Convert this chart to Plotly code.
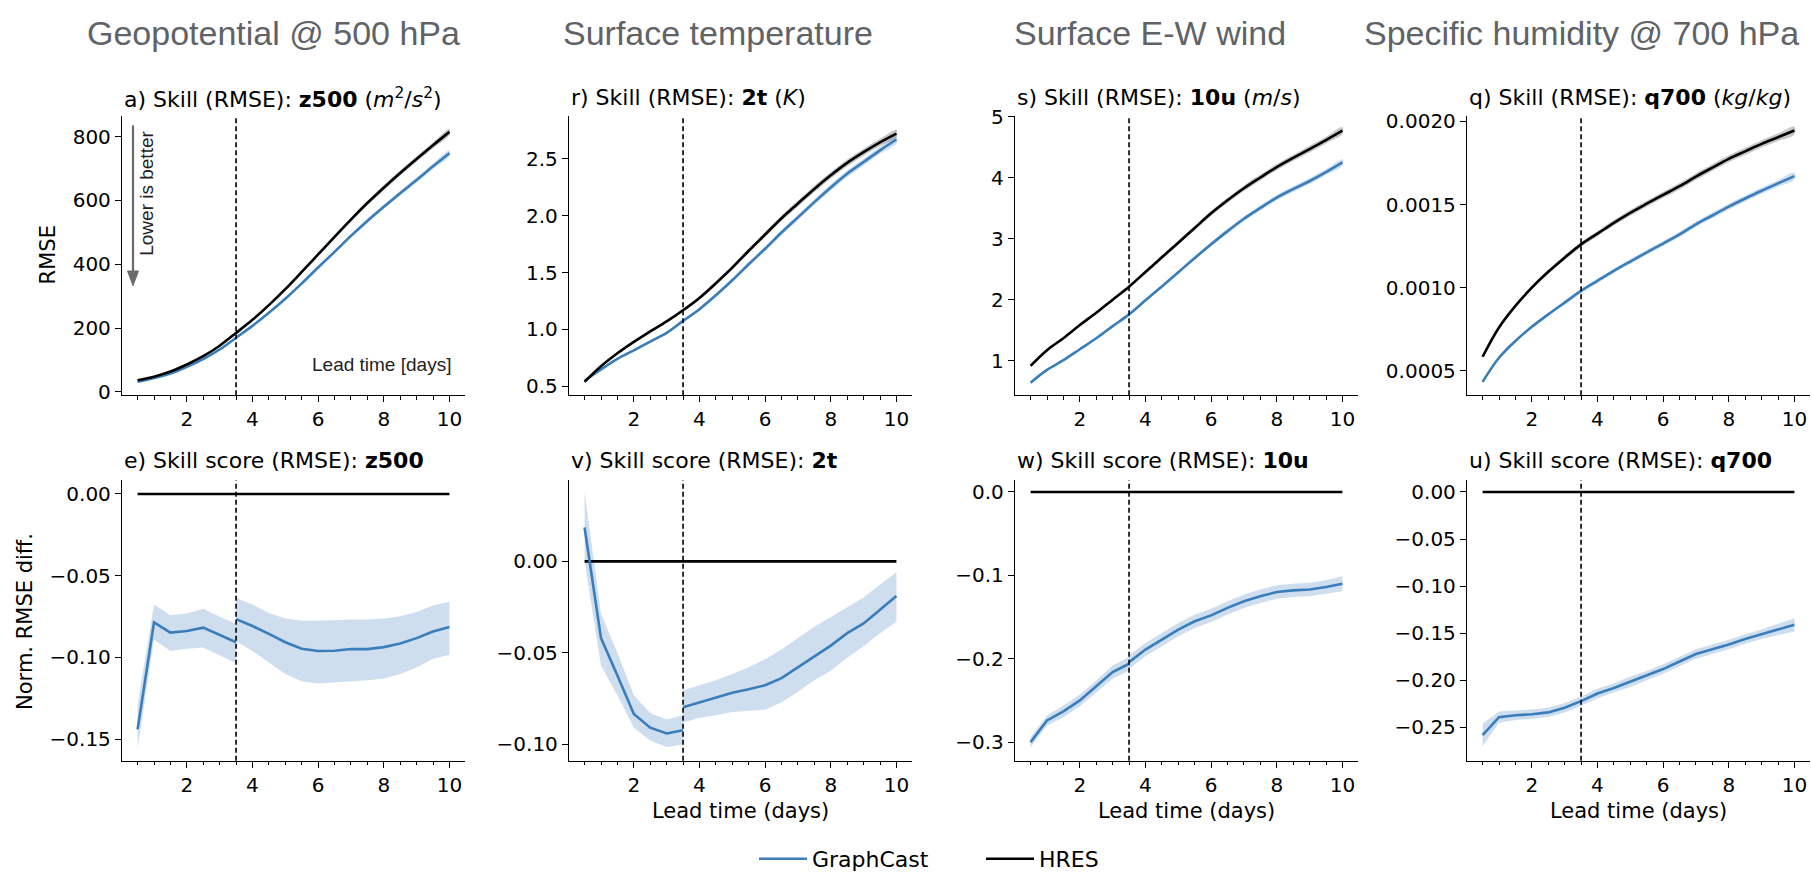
import plotly.graph_objects as go

# --- dane -------------------------------------------------------------------
lead_days = [0.5, 1.0, 1.5, 2.0, 2.5, 3.0, 3.5, 4.0, 4.5, 5.0,
             5.5, 6.0, 6.5, 7.0, 7.5, 8.0, 8.5, 9.0, 9.5, 10.0]
lead_seg1 = [0.5, 1.0, 1.5, 2.0, 2.5, 3.0, 3.5]
lead_seg2 = [3.5, 4.0, 4.5, 5.0, 5.5, 6.0, 6.5, 7.0, 7.5, 8.0, 8.5, 9.0, 9.5, 10.0]

# RMSE (górny rząd)
z500_hres = [37, 48, 64, 86, 112, 145, 185, 226, 272, 322,
             376, 431, 486, 540, 592, 640, 686, 730, 773, 815]
z500_gc = [32, 44, 58, 79, 103, 133, 170, 207, 248, 292,
           340, 390, 439, 489, 536, 580, 623, 664, 707, 748]
t2m_hres = [0.54, 0.677, 0.791, 0.891, 0.983, 1.071, 1.169, 1.277, 1.406, 1.543,
            1.691, 1.834, 1.977, 2.106, 2.234, 2.354, 2.463, 2.557, 2.643, 2.72]
t2m_gc = [0.55, 0.649, 0.742, 0.817, 0.894, 0.970, 1.075, 1.178, 1.301, 1.432,
          1.573, 1.709, 1.851, 1.984, 2.118, 2.246, 2.367, 2.470, 2.573, 2.668]
u10_hres = [0.92, 1.176, 1.373, 1.587, 1.789, 2.003, 2.216, 2.456, 2.696, 2.936,
            3.176, 3.416, 3.629, 3.827, 4.003, 4.173, 4.323, 4.467, 4.616, 4.77]
u10_gc = [0.644, 0.854, 1.012, 1.191, 1.372, 1.570, 1.762, 1.992, 2.220, 2.452,
          2.684, 2.910, 3.125, 3.328, 3.504, 3.674, 3.813, 3.945, 4.091, 4.25]
q700_hres = [0.000584, 0.00076, 0.00089, 0.001, 0.001095, 0.00118, 0.00126, 0.001325,
             0.00139, 0.00145, 0.001505, 0.001558, 0.00161, 0.001668, 0.001722,
             0.001775, 0.00182, 0.001865, 0.001905, 0.001945]
q700_gc = [0.000433, 0.000578, 0.000679, 0.000764, 0.000839, 0.00091, 0.00098,
           0.001041, 0.001101, 0.001157, 0.001212, 0.001265, 0.00132, 0.001381,
           0.001434, 0.001487, 0.001536, 0.001583, 0.001627, 0.001671]
rmse_spread = 0.012  # względna szerokość pasma niepewności w górnym rzędzie

# Znormalizowana różnica RMSE (dolny rząd), dwa odcinki rozdzielone w 3.5 dnia
z500_ss1 = [-0.144, -0.0786, -0.0848, -0.0838, -0.0818, -0.0862, -0.0907]
z500_ss1_lo = [-0.156, -0.0892, -0.0961, -0.0947, -0.094, -0.0987, -0.1035]
z500_ss1_hi = [-0.129, -0.0677, -0.0742, -0.0732, -0.0702, -0.0752, -0.0792]
z500_ss2 = [-0.0766, -0.0808, -0.0856, -0.0907, -0.0947, -0.0961, -0.0959,
            -0.0949, -0.0949, -0.0937, -0.0915, -0.0882, -0.0842, -0.0814]
z500_ss2_lo = [-0.0901, -0.0961, -0.1031, -0.1101, -0.1146, -0.116, -0.1156,
               -0.1146, -0.1139, -0.1129, -0.1101, -0.1061, -0.1008, -0.0983]
z500_ss2_hi = [-0.0637, -0.0677, -0.0728, -0.0762, -0.0776, -0.0776, -0.0772,
               -0.0768, -0.0768, -0.0762, -0.0748, -0.0722, -0.0683, -0.0659]

t2m_ss1 = [0.0185, -0.042, -0.0625, -0.0835, -0.091, -0.0942, -0.0924]
t2m_ss1_lo = [0.0, -0.0571, -0.0732, -0.091, -0.098, -0.1016, -0.1002]
t2m_ss1_hi = [0.038, -0.0287, -0.05, -0.0732, -0.083, -0.0865, -0.0842]
t2m_ss2 = [-0.0798, -0.0773, -0.0746, -0.0719, -0.07, -0.0678, -0.0639,
           -0.058, -0.0518, -0.0461, -0.0393, -0.034, -0.0265, -0.0189]
t2m_ss2_lo = [-0.0883, -0.0856, -0.0842, -0.0824, -0.082, -0.0812, -0.0771,
              -0.0714, -0.0651, -0.0598, -0.0527, -0.0465, -0.0393, -0.0331]
t2m_ss2_hi = [-0.0705, -0.0678, -0.0651, -0.0616, -0.058, -0.0536, -0.0482,
              -0.042, -0.0358, -0.0304, -0.0251, -0.0198, -0.0127, -0.0059]

u10_ss1 = [-0.300, -0.274, -0.263, -0.250, -0.233, -0.216, -0.206]
u10_ss1_lo = [-0.306, -0.280, -0.270, -0.257, -0.240, -0.224, -0.214]
u10_ss1_hi = [-0.294, -0.268, -0.256, -0.243, -0.226, -0.208, -0.198]
u10_ss2 = [-0.204, -0.189, -0.177, -0.165, -0.155, -0.148, -0.139,
           -0.131, -0.125, -0.120, -0.118, -0.117, -0.114, -0.110]
u10_ss2_lo = [-0.212, -0.197, -0.185, -0.173, -0.163, -0.156, -0.147,
              -0.139, -0.133, -0.128, -0.126, -0.125, -0.122, -0.119]
u10_ss2_hi = [-0.196, -0.181, -0.169, -0.157, -0.147, -0.140, -0.131,
              -0.123, -0.117, -0.112, -0.110, -0.109, -0.106, -0.101]

q700_ss1 = [-0.258, -0.239, -0.237, -0.236, -0.234, -0.229, -0.222]
q700_ss1_lo = [-0.270, -0.245, -0.242, -0.241, -0.239, -0.234, -0.227]
q700_ss1_hi = [-0.246, -0.233, -0.232, -0.231, -0.229, -0.224, -0.217]
q700_ss2 = [-0.222, -0.214, -0.208, -0.2016, -0.195, -0.188, -0.180,
            -0.172, -0.167, -0.162, -0.156, -0.151, -0.146, -0.141]
q700_ss2_lo = [-0.227, -0.219, -0.213, -0.207, -0.200, -0.193, -0.185,
               -0.177, -0.172, -0.167, -0.161, -0.156, -0.152, -0.148]
q700_ss2_hi = [-0.217, -0.209, -0.203, -0.196, -0.190, -0.183, -0.175,
               -0.167, -0.162, -0.157, -0.151, -0.146, -0.140, -0.134]

hres_ref = [0.0] * len(lead_days)  # HRES względem samego siebie

# etykiety
column_headers = ["Geopotential @ 500 hPa", "Surface temperature",
                  "Surface E-W wind", "Specific humidity @ 700 hPa"]
top_titles = [
    "a) Skill (RMSE): <b>z500</b> (<i>m</i><sup>2</sup>/<i>s</i><sup>2</sup>)",
    "r) Skill (RMSE): <b>2t</b> (<i>K</i>)",
    "s) Skill (RMSE): <b>10u</b> (<i>m</i>/<i>s</i>)",
    "q) Skill (RMSE): <b>q700</b> (<i>kg</i>/<i>kg</i>)",
]
bottom_titles = [
    "e) Skill score (RMSE): <b>z500</b>",
    "v) Skill score (RMSE): <b>2t</b>",
    "w) Skill score (RMSE): <b>10u</b>",
    "u) Skill score (RMSE): <b>q700</b>",
]
top_ticks = [
    ([0, 200, 400, 600, 800], ["0", "200", "400", "600", "800"]),
    ([0.5, 1.0, 1.5, 2.0, 2.5], ["0.5", "1.0", "1.5", "2.0", "2.5"]),
    ([1, 2, 3, 4, 5], ["1", "2", "3", "4", "5"]),
    ([0.0005, 0.001, 0.0015, 0.002], ["0.0005", "0.0010", "0.0015", "0.0020"]),
]
bottom_ticks = [
    ([0.0, -0.05, -0.10, -0.15], ["0.00", "−0.05", "−0.10", "−0.15"]),
    ([0.0, -0.05, -0.10], ["0.00", "−0.05", "−0.10"]),
    ([0.0, -0.1, -0.2, -0.3], ["0.0", "−0.1", "−0.2", "−0.3"]),
    ([0.0, -0.05, -0.10, -0.15, -0.20, -0.25],
     ["0.00", "−0.05", "−0.10", "−0.15", "−0.20", "−0.25"]),
]
top_ranges = [[-10, 866], [0.423, 2.878], [0.44, 5.016], [0.000353, 0.002035]]
bottom_ranges = [[-0.1632, 0.0084], [-0.1091, 0.0444], [-0.3223, 0.0141], [-0.2853, 0.01245]]

# --- wygląd -----------------------------------------------------------------
W, H = 1812, 889
BLUE = "#3a7dbb"
BLUE_FILL = "rgba(58,125,187,0.25)"
GREY_FILL = "rgba(0,0,0,0.22)"
MPL_FONT = "DejaVu Sans"
SANS = "Liberation Sans, Arial, sans-serif"

col_left = [122, 569, 1015, 1467]
col_width = 343
top_row = (107, 393)
bottom_row = (480, 767)


def px_x(p):
    return p / W


def px_y(p):
    return 1 - p / H


def ax_name(k, letter):
    return letter if k == 1 else f"{letter}{k}"


fig = go.Figure()


def add_band(k, x, lo, hi, color, shape="linear"):
    fig.add_trace(go.Scatter(
        x=list(x) + list(x)[::-1], y=list(hi) + list(lo)[::-1],
        fill="toself", fillcolor=color, line=dict(width=0, shape=shape), mode="lines",
        hoverinfo="skip", showlegend=False,
        xaxis=ax_name(k, "x"), yaxis=ax_name(k, "y")))


def add_line(k, x, y, color, name, legend, shape="linear"):
    fig.add_trace(go.Scatter(
        x=x, y=y, mode="lines", line=dict(color=color, width=2.6, shape=shape),
        name=name, legendgroup=name, showlegend=legend,
        xaxis=ax_name(k, "x"), yaxis=ax_name(k, "y")))


rmse_panels = [(z500_hres, z500_gc), (t2m_hres, t2m_gc),
               (u10_hres, u10_gc), (q700_hres, q700_gc)]
for i, (hres, gc) in enumerate(rmse_panels):
    k = i + 1
    add_band(k, lead_days, [v * (1 - rmse_spread) for v in hres],
             [v * (1 + rmse_spread) for v in hres], GREY_FILL, "spline")
    add_band(k, lead_days, [v * (1 - rmse_spread) for v in gc],
             [v * (1 + rmse_spread) for v in gc], BLUE_FILL, "spline")
    add_line(k, lead_days, gc, BLUE, "GraphCast", False, "spline")
    add_line(k, lead_days, hres, "black", "HRES", False, "spline")

score_panels = [
    (z500_ss1, z500_ss1_lo, z500_ss1_hi, z500_ss2, z500_ss2_lo, z500_ss2_hi),
    (t2m_ss1, t2m_ss1_lo, t2m_ss1_hi, t2m_ss2, t2m_ss2_lo, t2m_ss2_hi),
    (u10_ss1, u10_ss1_lo, u10_ss1_hi, u10_ss2, u10_ss2_lo, u10_ss2_hi),
    (q700_ss1, q700_ss1_lo, q700_ss1_hi, q700_ss2, q700_ss2_lo, q700_ss2_hi),
]
for i, (s1, lo1, hi1, s2, lo2, hi2) in enumerate(score_panels):
    k = i + 5
    add_band(k, lead_seg1, lo1, hi1, BLUE_FILL)
    add_band(k, lead_seg2, lo2, hi2, BLUE_FILL)
    add_line(k, lead_days, hres_ref, "black", "HRES", False)
    add_line(k, lead_seg1, s1, BLUE, "GraphCast", i == 0)
    add_line(k, lead_seg2, s2, BLUE, "GraphCast", False)

# wpis HRES w legendzie (po GraphCast)
fig.add_trace(go.Scatter(x=[None], y=[None], mode="lines",
                         line=dict(color="black", width=2.6), name="HRES",
                         showlegend=True, xaxis="x5", yaxis="y5"))

# --- osie ---------------------------------------------------------------------
axis_common = dict(
    showline=True, linecolor="black", linewidth=1.3, ticks="outside",
    ticklen=6, tickwidth=1.3, tickcolor="black", showgrid=False, zeroline=False,
    tickfont=dict(family=MPL_FONT, size=20, color="black"),
)
layout_axes = {}
for i in range(8):
    k = i + 1
    col = i % 4
    row = top_row if i < 4 else bottom_row
    left = col_left[col]
    xdom = [px_x(left), px_x(left + col_width)]
    ydom = [px_y(row[1]), px_y(row[0])]
    if i < 4:
        tv, tt = top_ticks[col]
        yr = top_ranges[col]
    else:
        tv, tt = bottom_ticks[col]
        yr = bottom_ranges[col]
    layout_axes["xaxis" if k == 1 else f"xaxis{k}"] = dict(
        axis_common, domain=xdom, range=[0.025, 10.475], tickmode="linear",
        tick0=0, dtick=2, anchor=ax_name(k, "y"),
        minor=dict(ticks="outside", tickmode="linear", tick0=0, dtick=0.5,
                   ticklen=3.5, tickwidth=1, tickcolor="black"))
    layout_axes["yaxis" if k == 1 else f"yaxis{k}"] = dict(
        axis_common, domain=ydom, range=yr, tickmode="array", tickvals=tv,
        ticktext=tt, anchor=ax_name(k, "x"))

# przerywana linia pionowa w 3.5 dnia
shapes = []
for k in range(1, 9):
    shapes.append(dict(type="line", xref=ax_name(k, "x"), yref=f"{ax_name(k, 'y')} domain",
                       x0=3.5, x1=3.5, y0=0, y1=1,
                       line=dict(color="black", width=1.6, dash="5px,3px")))

# strzałka "Lower is better"
ARROW = "#6b6b6b"
shapes.append(dict(type="line", xref="paper", yref="paper",
                   x0=px_x(133), x1=px_x(133), y0=px_y(117), y1=px_y(268),
                   line=dict(color=ARROW, width=2.2)))
shapes.append(dict(type="path", xref="paper", yref="paper",
                   path=(f"M {px_x(127.5)} {px_y(266)} L {px_x(138.5)} {px_y(266)} "
                         f"L {px_x(133)} {px_y(281)} Z"),
                   fillcolor=ARROW, line=dict(color=ARROW, width=1)))

# --- teksty ---------------------------------------------------------------------
annotations = []
header_x = [273, 718, 1150, 1581]
for txt, cx in zip(column_headers, header_x):
    annotations.append(dict(text=txt, x=px_x(cx), y=px_y(23), xref="paper", yref="paper",
                            xanchor="center", yanchor="middle", showarrow=False,
                            font=dict(family=SANS, size=34, color="#5f6368")))
for col in range(4):
    annotations.append(dict(text=top_titles[col], x=px_x(col_left[col]), y=px_y(89),
                            xref="paper", yref="paper", xanchor="left", yanchor="middle",
                            showarrow=False, font=dict(family=MPL_FONT, size=22, color="black")))
    annotations.append(dict(text=bottom_titles[col], x=px_x(col_left[col]), y=px_y(460),
                            xref="paper", yref="paper", xanchor="left", yanchor="middle",
                            showarrow=False, font=dict(family=MPL_FONT, size=22, color="black")))
    if col > 0:
        annotations.append(dict(text="Lead time (days)",
                                x=px_x(col_left[col] + col_width / 2), y=px_y(818),
                                xref="paper", yref="paper", xanchor="center", yanchor="middle",
                                showarrow=False,
                                font=dict(family=MPL_FONT, size=21, color="black")))

annotations += [
    dict(text="RMSE", x=px_x(48), y=px_y(250), xref="paper", yref="paper",
         textangle=-90, showarrow=False, xanchor="center", yanchor="middle",
         font=dict(family=MPL_FONT, size=21, color="black")),
    dict(text="Norm. RMSE diff.", x=px_x(25), y=px_y(625), xref="paper", yref="paper",
         textangle=-90, showarrow=False, xanchor="center", yanchor="middle",
         font=dict(family=MPL_FONT, size=21, color="black")),
    dict(text="Lower is better", x=px_x(147), y=px_y(187), xref="paper", yref="paper",
         textangle=-90, showarrow=False, xanchor="center", yanchor="middle",
         font=dict(family=SANS, size=19, color="#222222")),
    dict(text="Lead time [days]", x=px_x(453), y=px_y(362), xref="paper", yref="paper",
         showarrow=False, xanchor="right", yanchor="middle",
         font=dict(family=SANS, size=19, color="#222222")),
]

fig.update_layout(
    width=W, height=H, margin=dict(l=0, r=0, t=0, b=0),
    paper_bgcolor="white", plot_bgcolor="white",
    shapes=shapes, annotations=annotations,
    showlegend=True,
    legend=dict(orientation="h", x=px_x(754), xanchor="left", y=0.0, yanchor="bottom",
                entrywidth=164, entrywidthmode="pixels", itemwidth=48,
                font=dict(family=MPL_FONT, size=22, color="black"),
                bgcolor="rgba(0,0,0,0)"),
    **layout_axes,
)

fig.write_html("out.html", config={"displayModeBar": False},
               post_script="document.body.style.margin='0';document.body.style.overflow='hidden';")
